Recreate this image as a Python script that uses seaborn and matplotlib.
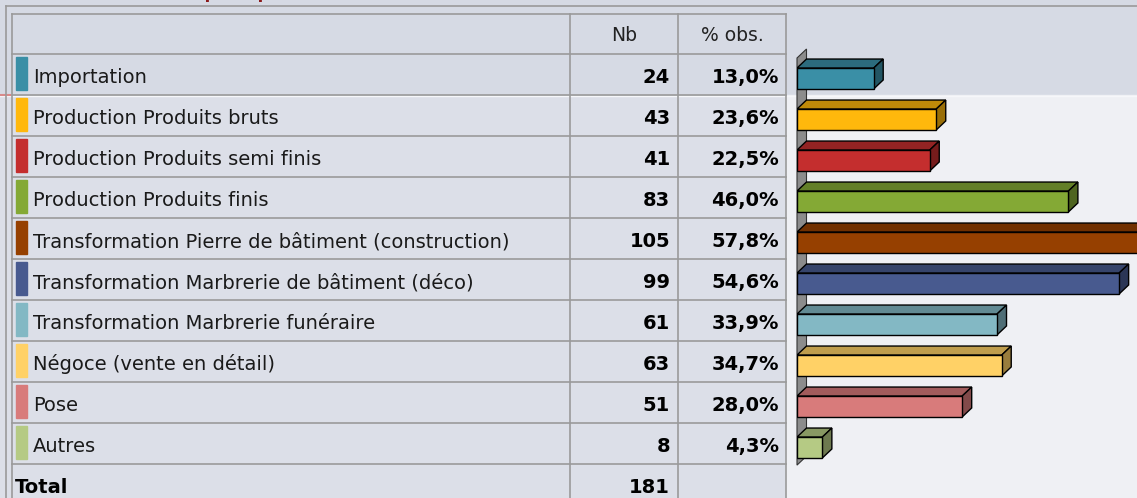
import matplotlib
matplotlib.use("Agg")
import matplotlib.pyplot as plt
import seaborn as sns
from matplotlib.patches import Polygon, Rectangle
import matplotlib.colors as mcolors

labels = ['Importation', 'Production Produits bruts', 'Production Produits semi finis',
          'Production Produits finis', 'Transformation Pierre de bâtiment (construction)',
          'Transformation Marbrerie de bâtiment (déco)', 'Transformation Marbrerie funéraire',
          'Négoce (vente en détail)', 'Pose', 'Autres']
nb = [24, 43, 41, 83, 105, 99, 61, 63, 51, 8]
pct = [13.0, 23.6, 22.5, 46.0, 57.8, 54.6, 33.9, 34.7, 28.0, 4.3]
total = 181
colors = ['#3A8FA6', '#FFB80C', '#C42E2E', '#84A935', '#964000',
          '#485A8F', '#83B8C4', '#FFD166', '#D87B7B', '#B5CA84']

W, H = 1137, 498
fig = plt.figure(figsize=(W / 100, H / 100), dpi=100)
fig.patch.set_facecolor('#D6DAE4')
plt.rcParams['font.family'] = ['DejaVu Sans']

# background / table layer in pixel coordinates
bg = fig.add_axes([0, 0, 1, 1])
bg.set_xlim(0, W)
bg.set_ylim(H, 0)
bg.axis('off')

row_top = 54
row_h = 41
x_left, x_nb, x_pct, x_right = 12, 570, 678, 786

bg.add_patch(Rectangle((0, 95), x_right, H - 95, color='#DCDFE8', zorder=0))
bg.add_patch(Rectangle((x_right, 95), W - x_right, H - 95, color='#EFF0F4', zorder=0))
bg.plot([0, W], [95.5, 95.5], color='#F6F7FA', lw=1, zorder=1)
bg.plot([0, 10], [95, 95], color='#D88A8A', lw=1.5, zorder=2)

# section title, cut off by the top edge as in the source
bg.text(33, -2.5, "Secteur d'activité principal", color='#8B1A1A', fontsize=12,
        fontweight='bold', va='baseline', ha='left')

line_kw = dict(color='#9A9A9A', lw=1.2, zorder=3)
bg.plot([6, 6], [6, H], **line_kw)
bg.plot([6, W], [6, 6], **line_kw)
for x in [x_left, x_nb, x_pct, x_right]:
    bg.plot([x, x], [14, H], **line_kw)
for i in range(len(labels) + 2):
    y = 14 if i == 0 else row_top + (i - 1) * row_h
    bg.plot([x_left, x_right], [y, y], **line_kw)

bg.text((x_nb + x_pct) / 2, 35, 'Nb', ha='center', va='center', fontsize=13.5, color='#222222')
bg.text((x_pct + x_right) / 2, 35, '% obs.', ha='center', va='center', fontsize=13.5, color='#222222')

for i, (lab, n, p, c) in enumerate(zip(labels, nb, pct, colors)):
    top = row_top + i * row_h
    bg.add_patch(Rectangle((16, top + 3), 11, row_h - 8, color=c, zorder=2))
    bg.text(33, top + 29, lab, fontsize=14, color='#1A1A1A', va='baseline', ha='left')
    bg.text(670, top + 29, str(n), fontsize=14, fontweight='bold', va='baseline', ha='right')
    bg.text(779, top + 29, f'{p:.1f}%'.replace('.', ','), fontsize=14,
            fontweight='bold', va='baseline', ha='right')

tot_top = row_top + len(labels) * row_h
bg.text(15, tot_top + 29, 'Total', fontsize=14, fontweight='bold', va='baseline')
bg.text(670, tot_top + 29, str(total), fontsize=14, fontweight='bold', va='baseline', ha='right')

# bar chart
px_per_pct = 5.9
x0_px = 797
ax = fig.add_axes([x0_px / W, 1 - (58 + 410) / H, (W - x0_px) / W, 410 / H])
ax.set_zorder(2)
ax.patch.set_alpha(0)
sns.barplot(x=pct, y=labels, hue=labels, palette=colors, legend=False, orient='h',
            width=0.51, saturation=1, edgecolor='black', linewidth=1, ax=ax)
ax.set_xlim(0, (W - x0_px) / px_per_pct)
ax.set_ylim(len(labels) - 0.5, -0.5)
ax.axis('off')

dx = 9.5 / px_per_pct
dy = 9 / row_h

# gray wall
wall = Polygon([(0, -0.5), (dx, -0.5 - dy), (dx, 9.43 - dy), (0, 9.43)],
               closed=True, facecolor='#8C8C8C', edgecolor='#333333', lw=0.8,
               clip_on=False, zorder=0)
ax.add_patch(wall)

def shade(c, f):
    r, g, b = mcolors.to_rgb(c)
    return (r * f, g * f, b * f)

for patch, c in zip(ax.patches[:len(labels)], colors):
    x0 = patch.get_x()
    w = patch.get_width()
    y_top = patch.get_y()
    y_bot = y_top + patch.get_height()
    top_face = Polygon([(x0, y_top), (x0 + dx, y_top - dy), (x0 + w + dx, y_top - dy), (x0 + w, y_top)],
                       closed=True, facecolor=shade(c, 0.75), edgecolor='black', lw=1, zorder=3)
    side_face = Polygon([(x0 + w, y_top), (x0 + w + dx, y_top - dy), (x0 + w + dx, y_bot - dy), (x0 + w, y_bot)],
                        closed=True, facecolor=shade(c, 0.6), edgecolor='black', lw=1, zorder=3)
    ax.add_patch(top_face)
    ax.add_patch(side_face)
    patch.set_zorder(4)

fig.savefig('out.png', dpi=100, facecolor=fig.get_facecolor())
